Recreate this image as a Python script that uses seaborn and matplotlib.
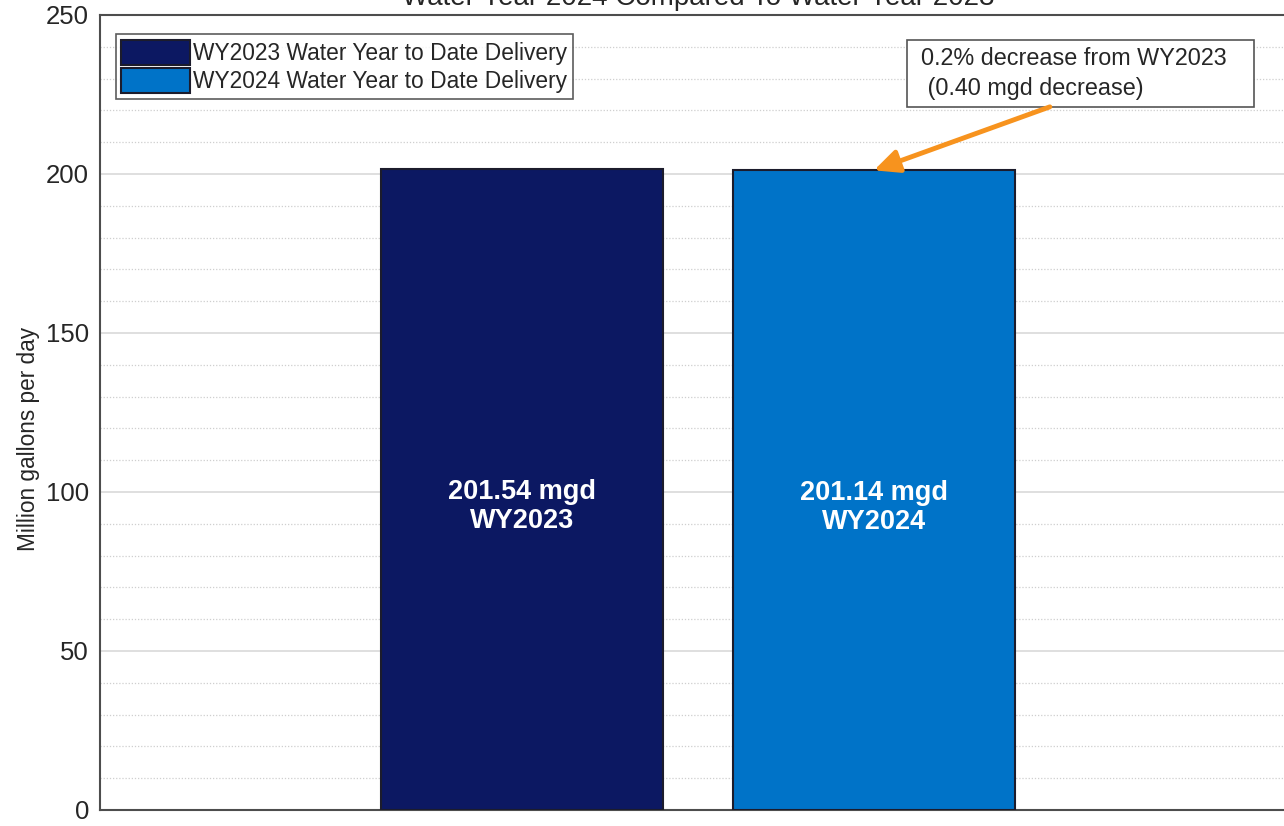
"""
Water year to date delivery: WY2024 vs WY2023 bar chart
"""

import pandas as pd
import matplotlib
matplotlib.use('Agg')
import matplotlib.pyplot as plt
from matplotlib.patches import Rectangle
from matplotlib.ticker import MultipleLocator
import seaborn as sns

# Data
years = ['WY2023', 'WY2024']
delivery_mgd = [201.54, 201.14]
legend_labels = ['WY2023 Water Year to Date Delivery', 'WY2024 Water Year to Date Delivery']
bar_colors = ['#0c1862', '#0073c8']
note_text = '0.2% decrease from WY2023\n (0.40 mgd decrease)'
title_text = 'Water Year 2024 Compared To Water Year 2023'

sns.set_style("white")
plt.rcParams['font.family'] = ['Liberation Sans', 'DejaVu Sans']

df = pd.DataFrame({'year': years, 'mgd': delivery_mgd})

fig = plt.figure(figsize=(12.84, 8.26), dpi=100)
ax = fig.add_axes([0.0779, 0.0194, 0.9315, 0.9625])

sns.barplot(data=df, x='year', y='mgd', hue='year', palette=bar_colors,
            width=0.8, dodge=False, legend=False, saturation=1,
            edgecolor='#1c1c2c', linewidth=1.5, ax=ax, zorder=3)

ax.set_xlim(-1.2, 2.2)
ax.set_ylim(0, 250)
ax.yaxis.set_major_locator(MultipleLocator(50))
ax.yaxis.set_minor_locator(MultipleLocator(10))
ax.grid(axis='y', which='major', color='#d9d9d9', linestyle='-', linewidth=1.2, zorder=0)
ax.grid(axis='y', which='minor', color='#cfcfcf', linestyle=(0, (1, 1.5)), linewidth=0.9, zorder=0)
ax.grid(axis='x', visible=False)
ax.set_axisbelow(True)
ax.set_xticks([])
ax.set_xlabel('')
ax.tick_params(axis='y', which='both', length=0, labelsize=18.5, colors='#262626', pad=8)
ax.set_ylabel('Million gallons per day', fontsize=16.3, color='#262626')
ax.yaxis.set_label_coords(-0.05, 0.467)
for s in ax.spines.values():
    s.set_color('#4d4d4d')
    s.set_linewidth(1.5)

# Value labels inside bars
for i, (yr, v) in enumerate(zip(years, delivery_mgd)):
    ax.text(i, v * 0.473, f'{v:.2f} mgd\n{yr}', ha='center', va='center',
            color='white', fontsize=19.5, fontweight='bold', linespacing=1.15, zorder=4)

# Legend
handles = [p for p in ax.patches][:2]
leg = ax.legend(handles, legend_labels, loc='upper left', bbox_to_anchor=(0.013, 0.976),
                fontsize=16.4, frameon=True, fancybox=False, handlelength=3.0,
                handleheight=1.3, handletextpad=0.15, borderpad=0.25, labelspacing=0.15,
                borderaxespad=0)
leg.get_frame().set_edgecolor('#333333')
leg.get_frame().set_linewidth(1.2)

# Annotation box and arrow
ax.add_patch(Rectangle((1.094, 221.1), 0.986, 21.0, facecolor='white',
                       edgecolor='#555555', linewidth=1.2, zorder=5))
ax.text(1.134, 240.0, note_text, ha='left', va='top', fontsize=16.8, color='#262626',
        linespacing=1.38, zorder=6)
ax.annotate('', xy=(1.0, delivery_mgd[1]), xytext=(1.5, 221.1),
            arrowprops=dict(arrowstyle='-|>,head_length=1.5,head_width=0.7',
                            color='#f7931e', lw=3.5, shrinkA=0, shrinkB=0), zorder=5)

fig.text(0.5436, 0.994, title_text, ha='center', va='baseline', fontsize=20, color='#262626')

plt.savefig('out.png', dpi=100)
plt.close()
